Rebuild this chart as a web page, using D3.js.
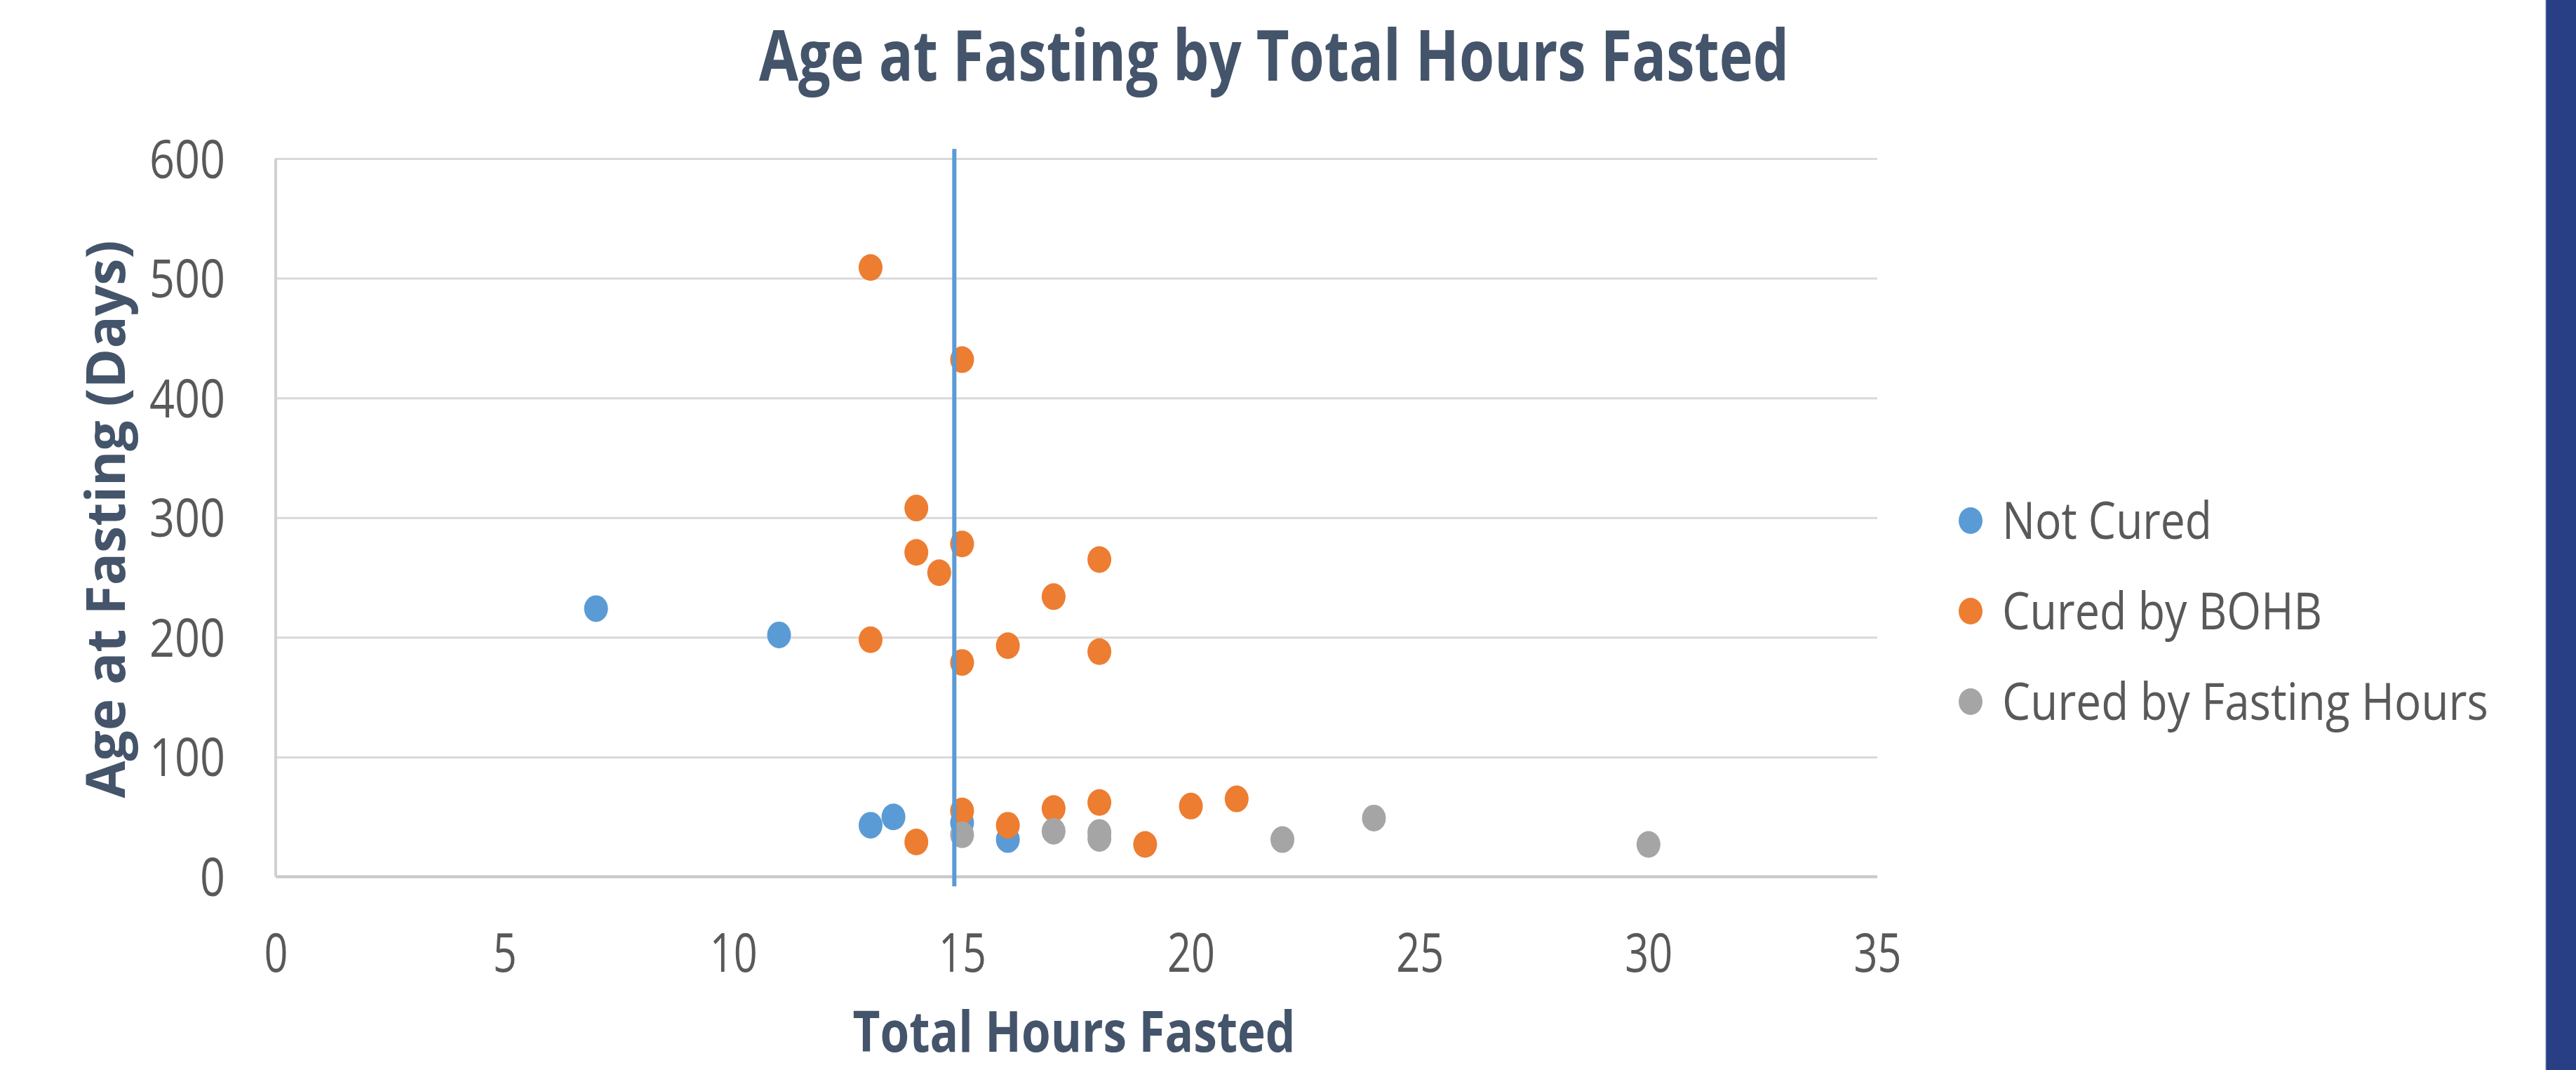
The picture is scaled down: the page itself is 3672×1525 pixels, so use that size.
<!DOCTYPE html>
<html><head><meta charset="utf-8">
<script src="https://cdn.jsdelivr.net/npm/d3@7"></script>
<style>html,body{margin:0;padding:0;background:#fff;overflow:hidden}</style>
</head><body>
<svg id="c" width="3672" height="1525"></svg>
<script>
// ---- data ----
const chartTitle = "Age at Fasting by Total Hours Fasted";
const xTitle = "Total Hours Fasted";
const yTitle = "Age at Fasting (Days)";
const seriesNames = ["Not Cured", "Cured by BOHB", "Cured by Fasting Hours"];
const seriesColors = ["#5B9BD5", "#ED7D31", "#A5A5A5"];
const notCuredHours = [7, 11, 13, 13.5, 15, 16];
const notCuredAge   = [224, 202, 43, 50, 45, 31];
const bohbHours = [13, 15, 14, 15, 14, 14.5, 18, 17, 13, 16, 18, 15, 14, 15, 16, 17, 18, 19, 20, 21];
const bohbAge   = [509, 432, 308, 278, 271, 254, 265, 234, 198, 193, 188, 179, 29, 55, 43, 57, 62, 27, 59, 65];
const fastingHours = [15, 17, 18, 18, 22, 24, 30];
const fastingAge   = [35, 38, 37, 32, 31, 49, 27];
const xTicks = [0, 5, 10, 15, 20, 25, 30, 35];
const yTicks = [0, 100, 200, 300, 400, 500, 600];
const thresholdHours = 14.83;
const thresholdAge = [-8, 608];

// ---- layout ----
const svg = d3.select("#c");
svg.append("rect").attr("width", 3672).attr("height", 1525).attr("fill", "#fff");
const L = 393, R = 2676, T = 226, B = 1249.5;
const x = d3.scaleLinear().domain([0, 35]).range([L, R]);
const y = d3.scaleLinear().domain([0, 600]).range([B, T]);
const font = "'Open Sans', 'Noto Sans', sans-serif";

// gridlines + y axis
const gy = svg.append("g").attr("transform", `translate(${L},0)`)
  .call(d3.axisLeft(y).tickValues(yTicks).tickSize(-(R - L)).tickPadding(72).tickFormat(d3.format("d")));
gy.select(".domain").remove();
gy.selectAll(".tick line").attr("stroke", "#D9D9D9").attr("stroke-width", 3);
gy.selectAll(".tick text")
  .attr("font-family", font).attr("font-size", 75).attr("fill", "#595959")
  .attr("dy", "0.36em")
  .attr("textLength", d => String(d).length * 36).attr("lengthAdjust", "spacingAndGlyphs");
// zero line and left axis line
svg.append("line").attr("x1", L).attr("x2", R).attr("y1", y(0)).attr("y2", y(0))
  .attr("stroke", "#C8C8C8").attr("stroke-width", 4);
svg.append("line").attr("x1", L).attr("x2", L).attr("y1", y(600)).attr("y2", y(0))
  .attr("stroke", "#D0D0D0").attr("stroke-width", 4);

// x axis labels
const gx = svg.append("g").attr("transform", `translate(0,${B})`)
  .call(d3.axisBottom(x).tickValues(xTicks).tickSize(0).tickPadding(80));
gx.select(".domain").remove();
gx.selectAll(".tick text")
  .attr("font-family", font).attr("font-size", 76).attr("fill", "#595959")
  .attr("dy", "0")
  .attr("y", 1385 - B)
  .attr("textLength", d => String(d).length * 34).attr("lengthAdjust", "spacingAndGlyphs");

// series points
const series = [
  { name: seriesNames[0], color: seriesColors[0], xs: notCuredHours, ys: notCuredAge },
  { name: seriesNames[1], color: seriesColors[1], xs: bohbHours, ys: bohbAge },
  { name: seriesNames[2], color: seriesColors[2], xs: fastingHours, ys: fastingAge }
];
series.forEach(s => {
  svg.append("g").selectAll("ellipse")
    .data(s.xs.map((h, i) => [h, s.ys[i]]))
    .join("ellipse")
    .attr("cx", d => x(d[0])).attr("cy", d => y(d[1]))
    .attr("rx", 17).attr("ry", 19)
    .attr("fill", s.color);
});

// threshold line
svg.append("line")
  .attr("x1", x(thresholdHours)).attr("x2", x(thresholdHours))
  .attr("y1", y(thresholdAge[1])).attr("y2", y(thresholdAge[0]))
  .attr("stroke", "#5B9BD5").attr("stroke-width", 6);

// titles
svg.append("text").text(chartTitle)
  .attr("x", 1816).attr("y", 115).attr("text-anchor", "middle")
  .attr("font-family", font).attr("font-weight", "bold").attr("font-size", 100)
  .attr("fill", "#44546A")
  .attr("textLength", 1468).attr("lengthAdjust", "spacingAndGlyphs");
svg.append("text").text(xTitle)
  .attr("x", 1531).attr("y", 1499).attr("text-anchor", "middle")
  .attr("font-family", font).attr("font-weight", "bold").attr("font-size", 80)
  .attr("fill", "#44546A")
  .attr("textLength", 631).attr("lengthAdjust", "spacingAndGlyphs");
svg.append("text").text(yTitle)
  .attr("transform", "translate(178,740) rotate(-90)")
  .attr("text-anchor", "middle")
  .attr("font-family", font).attr("font-weight", "bold").attr("font-size", 77)
  .attr("fill", "#44546A")
  .attr("textLength", 795).attr("lengthAdjust", "spacingAndGlyphs");

// legend
const legendRows = [742, 871, 1000];
const legendWidths = [299, 456, 693];
const lg = svg.append("g");
series.forEach((s, i) => {
  lg.append("ellipse").attr("cx", 2809).attr("cy", legendRows[i]).attr("rx", 17).attr("ry", 19).attr("fill", s.color);
  lg.append("text").text(s.name)
    .attr("x", 2854).attr("y", legendRows[i] + 26)
    .attr("font-family", font).attr("font-size", 74).attr("fill", "#595959")
    .attr("textLength", legendWidths[i]).attr("lengthAdjust", "spacingAndGlyphs");
});

// right-hand navy band
svg.append("rect").attr("x", 3629).attr("y", 0).attr("width", 43).attr("height", 1525).attr("fill", "#283F86");
svg.append("line").attr("x1", 3629).attr("x2", 3629).attr("y1", 0).attr("y2", 1525).attr("stroke", "#8A97BF").attr("stroke-width", 1);
</script>
</body></html>
